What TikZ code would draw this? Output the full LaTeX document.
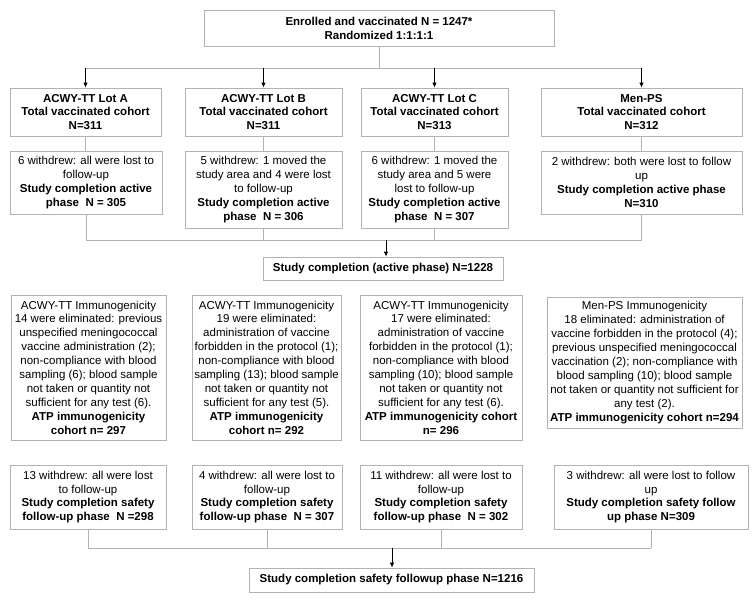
\documentclass[tikz,border=0pt]{standalone}
\usepackage{fontspec}
\setmainfont{Liberation Sans}
\usepackage{xcolor}
\usepackage{tikz}
\usetikzlibrary{arrows.meta,calc}
\definecolor{boxgray}{RGB}{178,178,178}
\newcommand{\flowfont}{\fontsize{11.5}{13.9}\selectfont}
\tikzset{
  flowbox/.style={draw=boxgray,line width=0.8pt,align=center,inner sep=1pt,font=\flowfont},
  headbox/.style={flowbox,font=\flowfont\bfseries},
  joinline/.style={draw=boxgray,line width=0.8pt},
  downarrow/.style={-{Latex[length=5pt,width=4.5pt]},line width=0.9pt,black}
}
\begin{document}
\begin{tikzpicture}[x=1pt,y=-1pt]
  \useasboundingbox (0,0) rectangle (753,603);
  % enrolment
  \node[headbox,minimum width=350,minimum height=36] (enrolled) at (379,28)
    {Enrolled and vaccinated N = 1247*\\Randomized 1:1:1:1};
  \coordinate (split) at (380,68);
  % groups
  \node[headbox,minimum width=151,minimum height=48] (lotA) at (85.5,112)
    {ACWY-TT Lot A\\Total vaccinated cohort\\N=311};
  \node[headbox,minimum width=157,minimum height=48] (lotB) at (263.5,112)
    {ACWY-TT Lot B\\Total vaccinated cohort\\N=311};
  \node[headbox,minimum width=147,minimum height=48] (lotC) at (434.5,112)
    {ACWY-TT Lot C\\Total vaccinated cohort\\N=313};
  \node[headbox,minimum width=201,minimum height=48] (menPS) at (641.5,112)
    {Men-PS\\Total vaccinated cohort\\N=312};
  % active phase
  \node[flowbox,minimum width=152,minimum height=63] (activeA) at (86,182.5)
    {6 withdrew: all were lost to\\follow-up\\\textbf{Study completion active}\\\textbf{phase~~N = 305}};
  \node[flowbox,minimum width=157,minimum height=77] (activeB) at (263.5,189.5)
    {5 withdrew: 1 moved the\\study area and 4 were lost\\to follow-up\\\textbf{Study completion active}\\\textbf{phase~~N = 306}};
  \node[flowbox,minimum width=147,minimum height=77] (activeC) at (434.5,189.5)
    {6 withdrew: 1 moved the\\study area and 5 were\\lost to follow-up\\\textbf{Study completion active}\\\textbf{phase~~N = 307}};
  \node[flowbox,minimum width=201,minimum height=63] (activeM) at (641.5,182.5)
    {2 withdrew: both were lost to follow\\up\\\textbf{Study completion active phase}\\\textbf{N=310}};
  \coordinate (join1) at (386,240);
  \node[headbox,minimum width=240,minimum height=23] (active) at (383,268.5)
    {Study completion (active phase) N=1228};
  % immunogenicity
  \node[flowbox,minimum width=155,minimum height=145] (immA) at (88.5,367.5)
    {ACWY-TT Immunogenicity\\14 were eliminated: previous\\unspecified meningococcal\\vaccine administration (2);\\non-compliance with blood\\sampling (6); blood sample\\not taken or quantity not\\sufficient for any test (6).\\\textbf{ATP immunogenicity}\\\textbf{cohort n= 297}};
  \node[flowbox,minimum width=149,minimum height=145] (immB) at (266.5,367.5)
    {ACWY-TT Immunogenicity\\19 were eliminated:\\administration of vaccine\\forbidden in the protocol (1);\\non-compliance with blood\\sampling (13); blood sample\\not taken or quantity not\\sufficient for any test (5).\\\textbf{ATP immunogenicity}\\\textbf{cohort n= 292}};
  \node[flowbox,minimum width=162,minimum height=145] (immC) at (441,367.5)
    {ACWY-TT Immunogenicity\\17 were eliminated:\\administration of vaccine\\forbidden in the protocol (1);\\non-compliance with blood\\sampling (10); blood sample\\not taken or quantity not\\sufficient for any test (6).\\\textbf{ATP immunogenicity cohort}\\\textbf{n= 296}};
  \node[flowbox,minimum width=195,minimum height=131] (immM) at (644.5,362.5)
    {Men-PS Immunogenicity\\18 eliminated: administration of\\vaccine forbidden in the protocol (4);\\previous unspecified meningococcal\\vaccination (2); non-compliance with\\blood sampling (10); blood sample\\not taken or quantity not sufficient for\\any test (2).\\\textbf{ATP immunogenicity cohort n=294}};
  % safety follow-up
  \node[flowbox,minimum width=156,minimum height=64] (safeA) at (88,497)
    {13 withdrew: all were lost\\to follow-up\\\textbf{Study completion safety}\\\textbf{follow-up phase~~N =298}};
  \node[flowbox,minimum width=150,minimum height=64] (safeB) at (267,497)
    {4 withdrew: all were lost to\\follow-up\\\textbf{Study completion safety}\\\textbf{follow-up phase~~N = 307}};
  \node[flowbox,minimum width=162,minimum height=64] (safeC) at (441,497)
    {11 withdrew: all were lost to\\follow-up\\\textbf{Study completion safety}\\\textbf{follow-up phase~~N = 302}};
  \node[flowbox,minimum width=194,minimum height=64] (safeM) at (651,497)
    {3 withdrew: all were lost to follow\\up\\\textbf{Study completion safety follow}\\\textbf{up phase N=309}};
  \coordinate (join2) at (392,548);
  \node[headbox,minimum width=285,minimum height=24] (safety) at (391.5,580)
    {Study completion safety followup phase N=1216};

  % connectors
  \draw[joinline] (enrolled.south) -- (enrolled.south |- split);
  \draw[joinline] (lotA |- split) -- (menPS |- split);
  \foreach \g in {lotA,lotB,lotC,menPS}
    \draw[downarrow] (\g |- split) -- (\g.north);
  \foreach \g/\h in {lotA/activeA,lotB/activeB,lotC/activeC,menPS/activeM}
    \draw[joinline] (\g.south) -- (\g.south |- \h.north);
  \foreach \h in {activeA,activeB,activeC,activeM}
    \draw[joinline] (\h.south) -- (\h.south |- join1);
  \draw[joinline] (activeA.south |- join1) -- (activeM.south |- join1);
  \draw[downarrow] (join1) -- (join1 |- active.north);
  \foreach \h in {safeA,safeB,safeC,safeM}
    \draw[joinline] (\h.south) -- (\h.south |- join2);
  \draw[joinline] (safeA.south |- join2) -- (safeM.south |- join2);
  \draw[downarrow] (join2) -- (join2 |- safety.north);
\end{tikzpicture}
\end{document}
